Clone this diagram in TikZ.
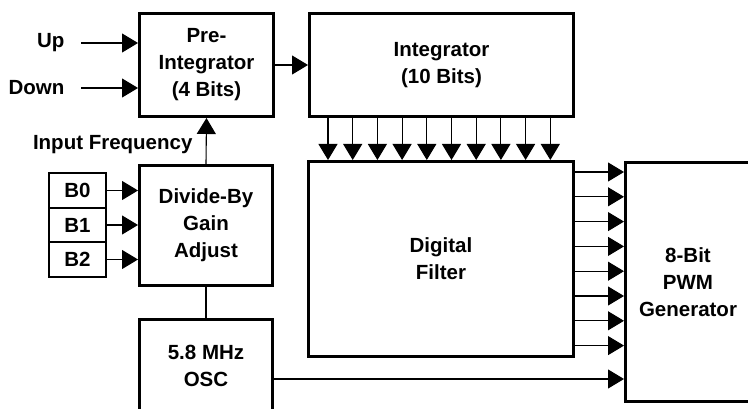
\documentclass[tikz,border=0pt]{standalone}
\usepackage{fontspec}
\setmainfont{Liberation Sans}
\usetikzlibrary{arrows.meta}

\begin{document}
\begin{tikzpicture}[x=1pt, y=-1pt,
        txt/.style={font=\fontsize{20.5}{27}\selectfont\bfseries, align=center},
        blk/.style={txt, draw, line width=3pt, inner sep=0pt},
        bit/.style={txt, draw, line width=2pt, inner sep=0pt, minimum width=57, minimum height=34.7},
        arr/.style={line width=1.1pt, -{Triangle[length=16pt, width=19pt]}}]
        \useasboundingbox (0,0) rectangle (748,409);
        \clip (0,0) rectangle (748,409);
        \node[blk, minimum width=134, minimum height=103] (pre) at (206.5,65) {Pre-\\Integrator\\(4 Bits)};
        \node[blk, minimum width=264, minimum height=103] (intg) at (441.5,65) {Integrator\\(10 Bits)};
        \node[blk, minimum width=265, minimum height=195] (filt) at (441,259) {Digital\\Filter};
        \node[blk, minimum width=133, minimum height=120] (divb) at (206,225.5) {Divide-By\\Gain\\Adjust};
        \node[blk, minimum width=133, minimum height=94] (osc) at (206,366) {5.8 MHz\\OSC};
        \node[blk, minimum width=125, minimum height=239] (pwm) at (688,282) {8-Bit\\PWM\\Generator};
        \node[bit] (b0) at (77.5,190.5) {B0};
        \node[bit] (b1) at (77.5,225) {B1};
        \node[bit] (b2) at (77.5,259.5) {B2};
        \node[txt, anchor=east] (up) at (68,43) {Up};
        \node[txt, anchor=east] (down) at (68,88) {Down};
        \node[txt, anchor=east] (infq) at (196,145) {Input Frequency};
        \draw[arr] ([xshift=13]up.east) -- (pre.west |- up.east);
        \draw[arr] ([xshift=13]down.east) -- (pre.west |- down.east);
        \draw[arr] (divb.north) -- (pre.south);
        \draw[arr] (pre.east) -- (intg.west);
        \foreach \b in {b0,b1,b2}
            \draw[arr] (\b.east) -- (divb.west |- \b.east);
        \draw[line width=1.1pt] (divb.south) -- (osc.north);
        \foreach \i in {0,...,9}
            \draw[arr] (intg.south -| {328+24.7*\i},0) -- (filt.north -| {328+24.7*\i},0);
        \foreach \i in {0,...,7}
            \draw[arr] (filt.east |- 0,{172+24.8*\i}) -- (pwm.west |- 0,{172+24.8*\i});
        \draw[arr] (osc.east |- 0,379) -- (pwm.west |- 0,379);
    \end{tikzpicture}
\end{document}
